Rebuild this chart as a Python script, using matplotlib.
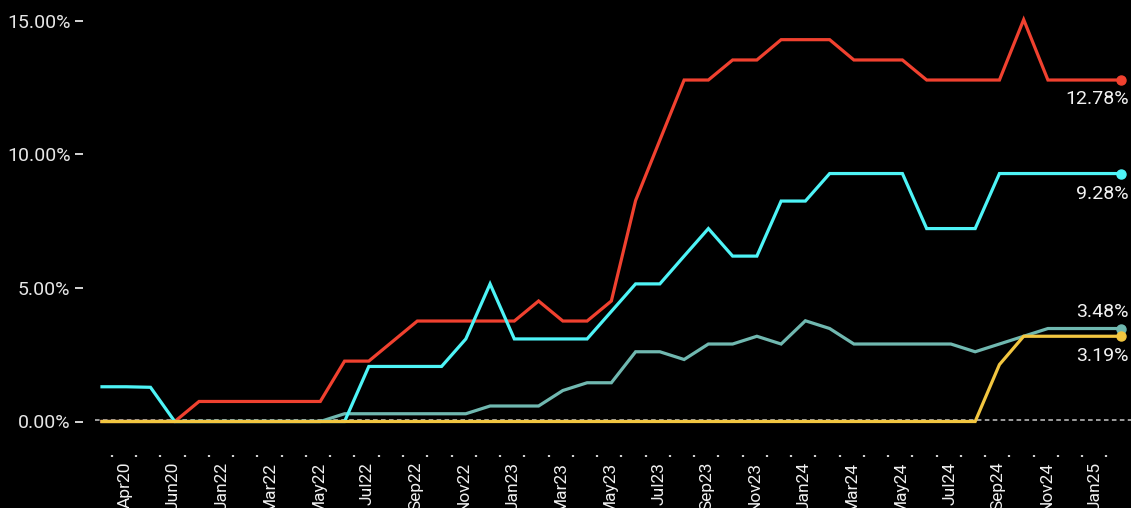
import matplotlib
matplotlib.use("Agg")
import matplotlib.pyplot as plt
import matplotlib.transforms as mtransforms
import numpy as np

plt.rcParams["font.family"] = ["Roboto", "DejaVu Sans"]

# Monthly categories
months = [
    "Apr20", "May20", "Jun20", "Dec21",
    "Jan22", "Feb22", "Mar22", "Apr22", "May22", "Jun22",
    "Jul22", "Aug22", "Sep22", "Oct22", "Nov22", "Dec22",
    "Jan23", "Feb23", "Mar23", "Apr23", "May23", "Jun23",
    "Jul23", "Aug23", "Sep23", "Oct23", "Nov23", "Dec23",
    "Jan24", "Feb24", "Mar24", "Apr24", "May24", "Jun24",
    "Jul24", "Aug24", "Sep24", "Oct24", "Nov24", "Dec24",
    "Jan25", "Feb25", "Mar25",
]

# Series values (%)
red_vals = [0, 0, 0, 0, 0.75, 0.75, 0.75, 0.75, 0.75, 0.75,
            2.26, 2.26, 3.01, 3.76, 3.76, 3.76, 3.76, 3.76, 4.51, 3.76,
            3.76, 4.51, 8.27, 10.53, 12.78, 12.78, 13.53, 13.53, 14.29, 14.29,
            14.29, 13.53, 13.53, 13.53, 12.78, 12.78, 12.78, 12.78, 15.04, 12.78,
            12.78, 12.78, 12.78]
cyan_vals = [1.30, 1.30, 1.28, 0, 0, 0, 0, 0, 0, 0,
             0, 2.06, 2.06, 2.06, 2.06, 3.09, 5.15, 3.09, 3.09, 3.09,
             3.09, 4.12, 5.15, 5.15, 6.19, 7.22, 6.19, 6.19, 8.25, 8.25,
             9.28, 9.28, 9.28, 9.28, 7.22, 7.22, 7.22, 9.28, 9.28, 9.28,
             9.28, 9.28, 9.28]
teal_vals = [0, 0, 0, 0, 0, 0, 0, 0, 0, 0,
             0.29, 0.29, 0.29, 0.29, 0.29, 0.29, 0.58, 0.58, 0.58, 1.16,
             1.45, 1.45, 2.61, 2.61, 2.32, 2.90, 2.90, 3.19, 2.90, 3.77,
             3.48, 2.90, 2.90, 2.90, 2.90, 2.90, 2.61, 2.90, 3.19, 3.48,
             3.48, 3.48, 3.48]
yellow_vals = [0, 0, 0, 0, 0, 0, 0, 0, 0, 0,
               0, 0, 0, 0, 0, 0, 0, 0, 0, 0,
               0, 0, 0, 0, 0, 0, 0, 0, 0, 0,
               0, 0, 0, 0, 0, 0, 0, 2.13, 3.19, 3.19,
               3.19, 3.19, 3.19]

y_ticks = [0, 5, 10, 15]

series = [
    (teal_vals, "#70b8b0", 8.4),
    (red_vals, "#f0412f", -17.5),
    (cyan_vals, "#4ef4f7", -18.0),
    (yellow_vals, "#f2c640", -18.0),
]

W, H = 1131, 508
fig = plt.figure(figsize=(W / 100, H / 100), dpi=100, facecolor="black")
x0, x1, y0, y1 = 102, 1120.7, 421.5, 20.7
ax = fig.add_axes([x0 / W, (H - y0) / H, (x1 - x0) / W, (y0 - y1) / H])
ax.set_facecolor("black")

x = np.arange(len(months))
ax.set_xlim(x[0], x[-1])
ax.set_ylim(y_ticks[0], y_ticks[-1])

for sp in ax.spines.values():
    sp.set_visible(False)
ax.spines["left"].set_position(("outward", 14))
ax.spines["bottom"].set_position(("outward", 24))

# zero reference line
zl = ax.axhline(0, xmin=-7 / (x1 - x0), xmax=(W - x0) / (x1 - x0),
                color="#c8c8c8", lw=1.1, ls=(0, (3, 2.2)), clip_on=False, zorder=1)
zl.set_transform(zl.get_transform() +
                 mtransforms.ScaledTranslation(0, 1.5 / 100, fig.dpi_scale_trans))

for vals, color, dy in series:
    ax.plot(x, vals, color=color, lw=2.3, solid_joinstyle="miter",
            clip_on=False, zorder=3)
    ax.plot(x[-1], vals[-1], "o", color=color, ms=6.5, clip_on=False, zorder=4)
    ax.annotate(f"{vals[-1]:.2f}%", xy=(x[-1], vals[-1]), xytext=(6, dy),
                textcoords="offset points", ha="right", va="baseline",
                color="#f2f2f2", fontsize=14, annotation_clip=False)

# y axis
ax.set_yticks(y_ticks)
ax.set_yticklabels([f"{v:.2f}%" for v in y_ticks])
ax.tick_params(axis="y", colors="#e6e6e6", length=5.8, width=1.3, pad=2.9,
               labelsize=14)

# x axis: every category ticked, every other one labelled
tick_shift = 0.41
tick_pos = [i + tick_shift for i in x if i + tick_shift <= x[-1]]
ax.set_xticks(tick_pos)
ax.set_xticklabels([months[i] if i % 2 == 0 else "" for i in range(len(tick_pos))],
                   rotation=90)
ax.tick_params(axis="x", colors="#d0d0d0", length=1.6, width=1.6, pad=3.5,
               labelsize=12.5)
shift = mtransforms.ScaledTranslation(13 / 100, 0, fig.dpi_scale_trans)
for lab in ax.get_xticklabels():
    lab.set_transform(lab.get_transform() + shift)
    lab.set_color("#f0f0f0")

fig.savefig("out.png", dpi=100, facecolor="black")
